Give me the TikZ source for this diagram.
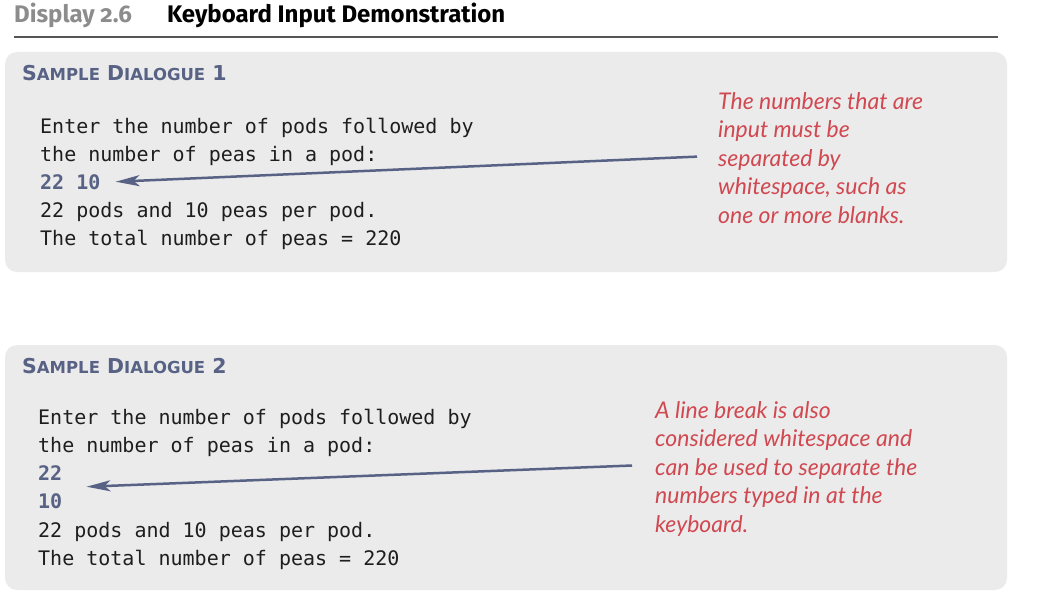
\documentclass[tikz,border=0pt]{standalone}
\usepackage{fontspec}
\setsansfont{Fira Sans}
\setmonofont{DejaVu Sans Mono}
\newfontfamily\notefont{Lato}
\newfontfamily\headfont{DejaVu Sans}
\usetikzlibrary{arrows.meta}

\definecolor{boxgray}{RGB}{235,235,236}
\definecolor{slate}{RGB}{88,98,132}
\definecolor{notered}{RGB}{208,72,80}
\definecolor{titlegray}{RGB}{140,140,140}
\definecolor{rulegray}{RGB}{85,85,85}
\definecolor{codeink}{RGB}{30,30,30}

\newcommand{\smallcap}[1]{{\fontsize{16.5}{18}\selectfont #1}}

\tikzset{
  panel/.style={fill=boxgray, rounded corners=12pt},
  caption/.style={anchor=base west, inner sep=0pt, font=\sffamily\bfseries\fontsize{24}{28}\selectfont},
  heading/.style={anchor=base west, inner sep=0pt, text=slate, font=\headfont\bfseries\fontsize{20.5}{24}\selectfont},
  code/.style={anchor=base west, inner sep=0pt, align=left, text=codeink, font=\ttfamily\fontsize{20}{28}\selectfont},
  typed/.style={code, text=slate, font=\ttfamily\bfseries\fontsize{20}{28}\selectfont},
  note/.style={anchor=base west, inner sep=0pt, align=left, text=notered, font=\notefont\itshape\fontsize{23}{28.5}\selectfont},
  pointer/.style={draw=slate, line width=2.5pt, -{Stealth[length=24pt,width=11pt,inset=6pt]}}
}

\begin{document}
\begin{tikzpicture}[x=1pt,y=-1pt]
\useasboundingbox (0,0) rectangle (1040,602);

% title line
\node[caption, text=titlegray] (disp) at (14,23) {Display \addfontfeatures{Numbers=OldStyle}2.6};
\node[caption] (title) at (167,23) {Keyboard Input Demonstration};
\draw[rulegray, line width=1.2pt] (14,37) -- (998,37);

% first dialogue (base = last line)
\path[panel] (5,52) rectangle (1007,272);
\node[heading] (head1) at (22,80) {S\smallcap{AMPLE} D\smallcap{IALOGUE} 1};
\node[code] (pre1) at (40,161) {Enter the number of pods followed by\\the number of peas in a pod:};
\node[typed] (in1) at (40,189) {22 10};
\node[code] (post1) at (40,245) {22 pods and 10 peas per pod.\\The total number of peas = 220};
\node[note] (note1) at (718,223) {The numbers that are\\input must be\\separated by\\whitespace, such as\\one or more blanks.};
\draw[pointer] ([xshift=-21pt,yshift=1pt]note1.west) -- ([xshift=15pt]in1.east);

% second dialogue
\path[panel] (5,345) rectangle (1007,590);
\node[heading] (head2) at (22,373) {S\smallcap{AMPLE} D\smallcap{IALOGUE} 2};
\node[code] (pre2) at (38,452) {Enter the number of pods followed by\\the number of peas in a pod:};
\node[typed] (in2) at (38,508) {22\\10};
\node[code] (post2) at (38,565) {22 pods and 10 peas per pod.\\The total number of peas = 220};
\node[note] (note2) at (655,532) {A line break is also\\considered whitespace and\\can be used to separate the\\numbers typed in at the\\keyboard.};
\draw[pointer] ([xshift=-23pt,yshift=3pt]note2.west) -- ([xshift=24pt]in2.east);
\end{tikzpicture}
\end{document}
